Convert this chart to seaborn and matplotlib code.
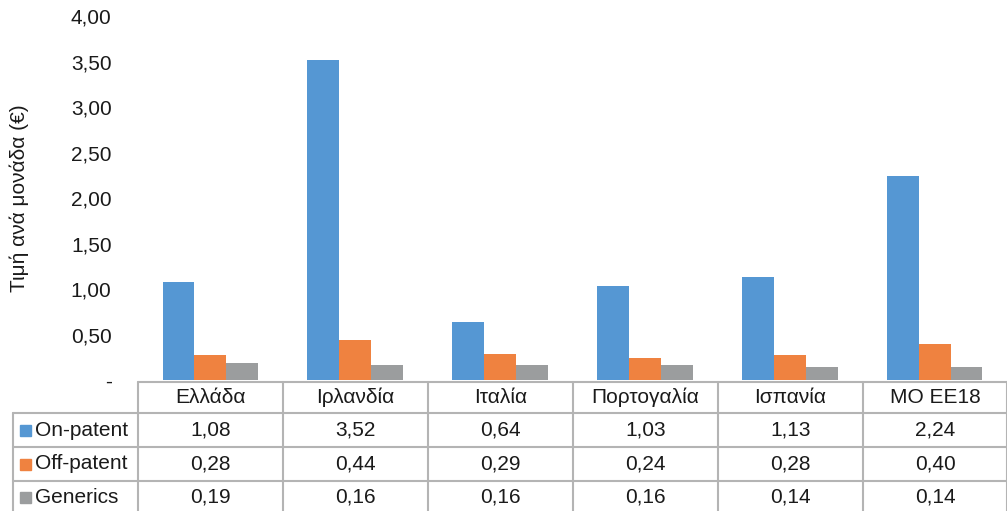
import numpy as np
import pandas as pd
import matplotlib
matplotlib.use('Agg')
import matplotlib.pyplot as plt
from matplotlib.patches import Rectangle
import seaborn as sns

countries = ['Ελλάδα', 'Ιρλανδία', 'Ιταλία', 'Πορτογαλία', 'Ισπανία', 'ΜΟ ΕΕ18']
series = ['On-patent', 'Off-patent', 'Generics']
on_patent = [1.08, 3.52, 0.64, 1.03, 1.13, 2.24]
off_patent = [0.28, 0.44, 0.29, 0.24, 0.28, 0.40]
generics = [0.19, 0.16, 0.16, 0.16, 0.14, 0.14]
colors = ['#5597D3', '#EF8240', '#9B9D9E']
yticks = [0, 0.5, 1.0, 1.5, 2.0, 2.5, 3.0, 3.5, 4.0]

values = {'On-patent': on_patent, 'Off-patent': off_patent, 'Generics': generics}
df = pd.DataFrame([(c, s, values[s][i]) for s in series for i, c in enumerate(countries)],
                  columns=['country', 'series', 'value'])

sns.set_style('white')
plt.rcParams['font.family'] = ['Liberation Sans', 'DejaVu Sans']
fs = 15
tc = '#1a1a1a'

W, H = 1007, 511
fig = plt.figure(figsize=(W / 100, H / 100), dpi=100)
ax = fig.add_axes([138 / W, 131 / H, 869 / W, (380 - 16) / H])

sns.barplot(data=df, x='country', y='value', hue='series', order=countries,
            hue_order=series, palette=colors, saturation=1, width=0.66,
            linewidth=0, legend=False, ax=ax)
ax.set_xlim(-0.5, len(countries) - 0.5)
ax.set_ylim(0, 4)
ax.set_yticks(yticks)
ax.set_yticklabels(['-' if t == 0 else f'{t:.2f}'.replace('.', ',') for t in yticks],
                   fontsize=fs, color=tc)
ax.tick_params(axis='y', length=0, pad=19)
ax.set_xticks([])
ax.set_xlabel('')
ax.set_ylabel('Τιμή ανά μονάδα (€)', fontsize=fs, color=tc)
ax.yaxis.set_label_coords(-0.126, 0.5)
for s in ax.spines.values():
    s.set_visible(False)

# data table underneath
tab = fig.add_axes([0, 0, 1, 131 / H])
tab.set_xlim(0, W)
tab.set_ylim(131, 0)
tab.axis('off')
col_edges = [13, 138, 283, 428, 573, 718, 863, 1007]
row_edges = [1.5, 33, 67, 100.5, 134]
lc = '#b4b4b4'
lw = 1.5
tab.plot([col_edges[1], W], [row_edges[0]] * 2, color=lc, lw=lw, clip_on=False)
for y in row_edges[1:]:
    tab.plot([col_edges[0], W], [y, y], color=lc, lw=lw, clip_on=False)
tab.plot([col_edges[0]] * 2, [row_edges[1], row_edges[-1]], color=lc, lw=lw, clip_on=False)
for x in col_edges[1:]:
    tab.plot([x, x], [row_edges[0], row_edges[-1]], color=lc, lw=lw, clip_on=False)

def cy(r):
    return (row_edges[r] + row_edges[r + 1]) / 2

for j, c in enumerate(countries):
    cx = (col_edges[j + 1] + col_edges[j + 2]) / 2
    tab.text(cx, cy(0), c, ha='center', va='center', fontsize=fs, color=tc)
    for i, s in enumerate(series):
        tab.text(cx, cy(i + 1), f'{values[s][j]:.2f}'.replace('.', ','),
                 ha='center', va='center', fontsize=fs, color=tc)

for i, s in enumerate(series):
    tab.add_patch(Rectangle((20, cy(i + 1) - 5), 11, 11, color=colors[i]))
    tab.text(35, cy(i + 1), s, ha='left', va='center', fontsize=fs, color=tc)

fig.savefig('out.png', dpi=100)
